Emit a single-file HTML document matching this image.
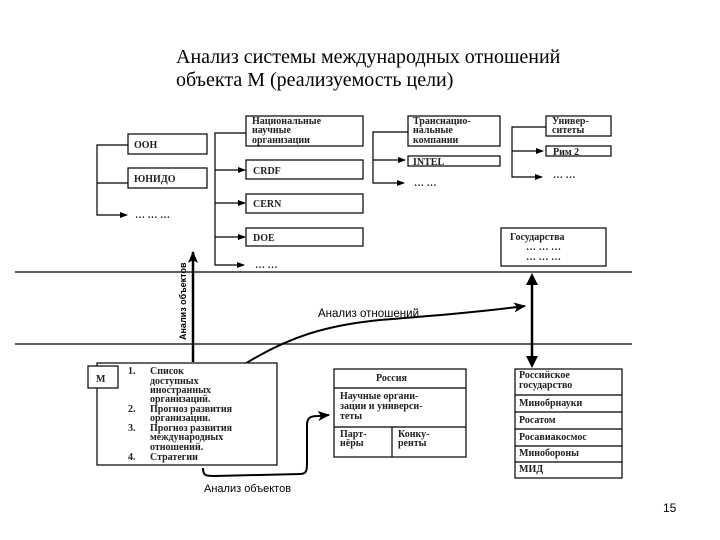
<!DOCTYPE html>
<html><head><meta charset="utf-8"><style>
html,body{margin:0;padding:0;background:#fff;width:720px;height:540px;overflow:hidden}
svg{display:block}
.t{font-family:"Liberation Serif","Noto Serif CJK SC",serif;fill:#000}
.b{font-family:"Liberation Serif",serif;font-weight:bold;font-size:10px;fill:#222}
.s{font-family:"Liberation Sans",sans-serif;fill:#000}
rect{fill:#fff;stroke:#000;stroke-width:1.2}
line,polyline,path.c{stroke:#000;stroke-width:1.2;fill:none}
</style></head><body>
<svg width="720" height="540" viewBox="0 0 720 540" xmlns="http://www.w3.org/2000/svg">
<defs><marker id="a" markerWidth="8" markerHeight="6" refX="7" refY="3" orient="auto" markerUnits="userSpaceOnUse"><path d="M0,0 L8,3 L0,6 Z" style="fill:#000;stroke:none"/></marker>
<marker id="A" markerWidth="12" markerHeight="10" refX="11" refY="5" orient="auto" markerUnits="userSpaceOnUse"><path d="M0,0 L12,5 L0,10 L3,5 Z" style="fill:#000;stroke:none"/></marker></defs>
<text class="t" x="176" y="63" font-size="20">Анализ системы международных отношений</text>
<text class="t" x="176" y="86" font-size="20">объекта М (реализуемость цели)</text>

<polyline points="128,145 97,145 97,215 127,215" marker-end="url(#a)"/>
<line x1="97" y1="183" x2="128" y2="183"/>
<rect x="128" y="134" width="79" height="20"/><text class="b" x="134" y="148" font-size="11">ООН</text>
<rect x="128" y="168" width="79" height="20"/><text class="b" x="134" y="182" font-size="11">ЮНИДО</text>
<text class="b" x="135" y="218">… … …</text>

<polyline points="246,133 215,133 215,265 244,265" marker-end="url(#a)"/>
<line x1="215" y1="170" x2="245" y2="170" marker-end="url(#a)"/>
<line x1="215" y1="203" x2="245" y2="203" marker-end="url(#a)"/>
<line x1="215" y1="237" x2="245" y2="237" marker-end="url(#a)"/>
<rect x="246" y="116" width="117" height="30"/>
<text class="b" x="252" y="124" font-size="9.5">Национальные</text><text class="b" x="252" y="133" font-size="9.5">научные</text><text class="b" x="252" y="143" font-size="9.5">организации</text>
<rect x="246" y="160" width="117" height="19"/><text class="b" x="253" y="174" font-size="11">CRDF</text>
<rect x="246" y="194" width="117" height="19"/><text class="b" x="253" y="207" font-size="11">CERN</text>
<rect x="246" y="228" width="117" height="18"/><text class="b" x="253" y="241" font-size="11">DOE</text>
<text class="b" x="255" y="268">… …</text>

<polyline points="408,132 373,132 373,183 404,183" marker-end="url(#a)"/>
<line x1="373" y1="160" x2="405" y2="160" marker-end="url(#a)"/>
<rect x="408" y="116" width="92" height="30"/>
<text class="b" x="413" y="124" font-size="9.5">Транснацио-</text><text class="b" x="413" y="133" font-size="9.5">нальные</text><text class="b" x="413" y="143" font-size="9.5">компании</text>
<rect x="408" y="156" width="92" height="10"/><text class="b" x="413" y="165" font-size="10.5">INTEL</text>
<text class="b" x="414" y="186">… …</text>

<polyline points="546,127 512,127 512,177 542,177" marker-end="url(#a)"/>
<line x1="512" y1="151" x2="543" y2="151" marker-end="url(#a)"/>
<rect x="546" y="116" width="65" height="20"/>
<text class="b" x="552" y="124" font-size="9.5">Универ-</text><text class="b" x="552" y="133" font-size="9.5">ситеты</text>
<rect x="546" y="146" width="65" height="10"/><text class="b" x="553" y="155" font-size="9.5">Рим 2</text>
<text class="b" x="553" y="178">… …</text>

<rect x="501" y="228" width="105" height="38"/>
<text class="b" x="510" y="240" font-size="10">Государства</text>
<text class="b" x="526" y="250" font-size="8">… … …</text><text class="b" x="526" y="260" font-size="8">… … …</text>

<line x1="15" y1="272" x2="632" y2="272" stroke="#444"/>
<line x1="15" y1="344" x2="632" y2="344" stroke="#444"/>

<line x1="193" y1="362" x2="193" y2="252" style="stroke-width:2.5" marker-end="url(#A)"/>
<text class="s" font-size="9" font-weight="bold" transform="translate(186,340) rotate(-90)">Анализ объектов</text>

<line x1="532" y1="284" x2="532" y2="357" style="stroke-width:2.5"/>
<path d="M526,285 L532,273 L538,285 Z" style="fill:#000;stroke:none"/>
<path d="M526,356 L532,368 L538,356 Z" style="fill:#000;stroke:none"/>

<path class="c" d="M240,367 C290,335 330,325 380,320 C430,316 480,312 525,306" style="stroke-width:2" marker-end="url(#A)"/>
<text class="s" x="318" y="317" font-size="11.5">Анализ отношений</text>

<rect x="97" y="363" width="180" height="102"/>
<rect x="88" y="366" width="30" height="22"/><text class="b" x="96" y="382" font-size="11">М</text>
<g class="b" font-size="10">
<text x="128" y="374">1.</text><text x="150" y="374">Список</text>
<text x="150" y="384">доступных</text><text x="150" y="393">иностранных</text><text x="150" y="402">организаций.</text>
<text x="128" y="412">2.</text><text x="150" y="412">Прогноз развития</text><text x="150" y="421">организации.</text>
<text x="128" y="431">3.</text><text x="150" y="431">Прогноз развития</text><text x="150" y="440">международных</text><text x="150" y="450">отношений.</text>
<text x="128" y="460">4.</text><text x="150" y="460">Стратегии</text>
</g>
<path class="c" d="M203,468 C203,476 206,476 215,476 L300,474 C307,474 307,470 307,462 L307,425 C307,418 310,416 318,416 L329,415" style="stroke-width:2" marker-end="url(#A)"/>
<text class="s" x="204" y="492" font-size="11">Анализ объектов</text>

<rect x="334" y="369" width="132" height="88"/>
<line x1="334" y1="388" x2="466" y2="388"/><line x1="334" y1="427" x2="466" y2="427"/><line x1="392" y1="427" x2="392" y2="457"/>
<text class="b" x="376" y="381">Россия</text>
<text class="b" x="340" y="399">Научные органи-</text><text class="b" x="340" y="409">зации и универси-</text><text class="b" x="340" y="419">теты</text>
<text class="b" x="340" y="437">Парт-</text><text class="b" x="340" y="446">нёры</text>
<text class="b" x="398" y="437">Конку-</text><text class="b" x="398" y="446">ренты</text>

<rect x="515" y="369" width="107" height="109"/>
<line x1="515" y1="395" x2="622" y2="395"/><line x1="515" y1="412" x2="622" y2="412"/><line x1="515" y1="429" x2="622" y2="429"/><line x1="515" y1="446" x2="622" y2="446"/><line x1="515" y1="462" x2="622" y2="462"/>
<text class="b" x="519" y="378">Российское</text><text class="b" x="519" y="388">государство</text>
<text class="b" x="519" y="406">Минобрнауки</text>
<text class="b" x="519" y="423">Росатом</text>
<text class="b" x="519" y="440">Росавиакосмос</text>
<text class="b" x="519" y="456">Минобороны</text>
<text class="b" x="519" y="472">МИД</text>

<text class="s" x="663" y="512" font-size="12">15</text>
</svg>
</body></html>
